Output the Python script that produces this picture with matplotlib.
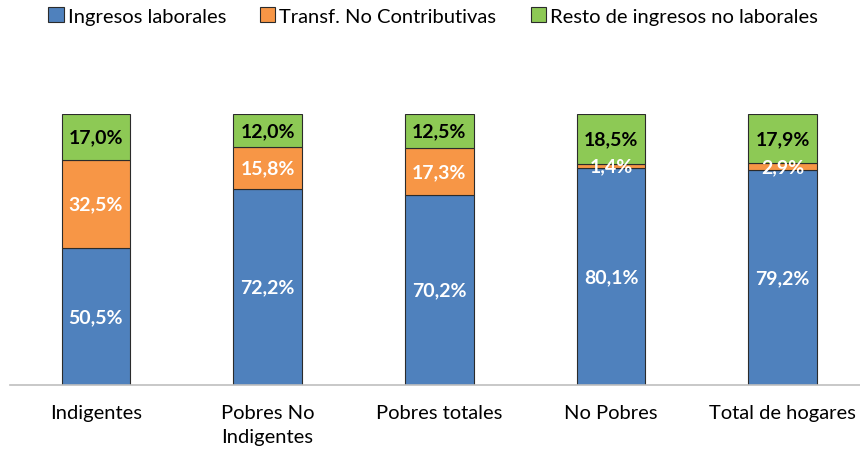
import matplotlib
matplotlib.use("Agg")
import matplotlib.pyplot as plt
import numpy as np

categories = ["Indigentes", "Pobres No\nIndigentes", "Pobres totales", "No Pobres", "Total de hogares"]
laborales = [50.5, 72.2, 70.2, 80.1, 79.2]
transf = [32.5, 15.8, 17.3, 1.4, 2.9]
resto = [17.0, 12.0, 12.5, 18.5, 17.9]
series_names = ["Ingresos laborales", "Transf. No Contributivas", "Resto de ingresos no laborales"]
colors = ["#4F81BD", "#F79646", "#8DC955"]
label_colors = ["white", "white", "black"]

plt.rcParams['font.family'] = ['Lato', 'DejaVu Sans']

fig = plt.figure(figsize=(8.6, 4.56), dpi=100)
ax = fig.add_axes([10/860, (456-386)/456, 850/860, 271/456])

x = np.arange(len(categories))
bottom = np.zeros(len(categories))
handles = []
for vals, name, c, lc in zip([laborales, transf, resto], series_names, colors, label_colors):
    vals = np.array(vals)
    b = ax.bar(x, vals, width=0.4, bottom=bottom, color=c, edgecolor="#2b2b2b", linewidth=0.8, label=name)
    handles.append(b)
    for xi, bi, v in zip(x, bottom, vals):
        ax.text(xi, bi + v/2, f"{v:.1f}%".replace(".", ","), ha="center", va="center",
                color=lc, fontsize=14, fontweight="bold")
    bottom += vals

ax.set_xlim(-0.5, 4.45)
ax.set_ylim(0, 100)
ax.set_xticks(x)
ax.set_xticklabels(categories, fontsize=14.5, linespacing=1.45)
ax.tick_params(axis="x", length=0, pad=14)
ax.set_yticks([])
for s in ["top", "right", "left"]:
    ax.spines[s].set_visible(False)
ax.spines["bottom"].set_color("#bfbfbf")
ax.spines["bottom"].set_linewidth(1.2)

fig.legend(handles=handles, labels=series_names, loc="center", bbox_to_anchor=(433/860, 1 - 17/456),
           ncol=3, frameon=False, fontsize=14.5, handlelength=0.75, handleheight=0.75,
           handletextpad=0.2, columnspacing=1.7)

fig.savefig("out.png", dpi=100)
